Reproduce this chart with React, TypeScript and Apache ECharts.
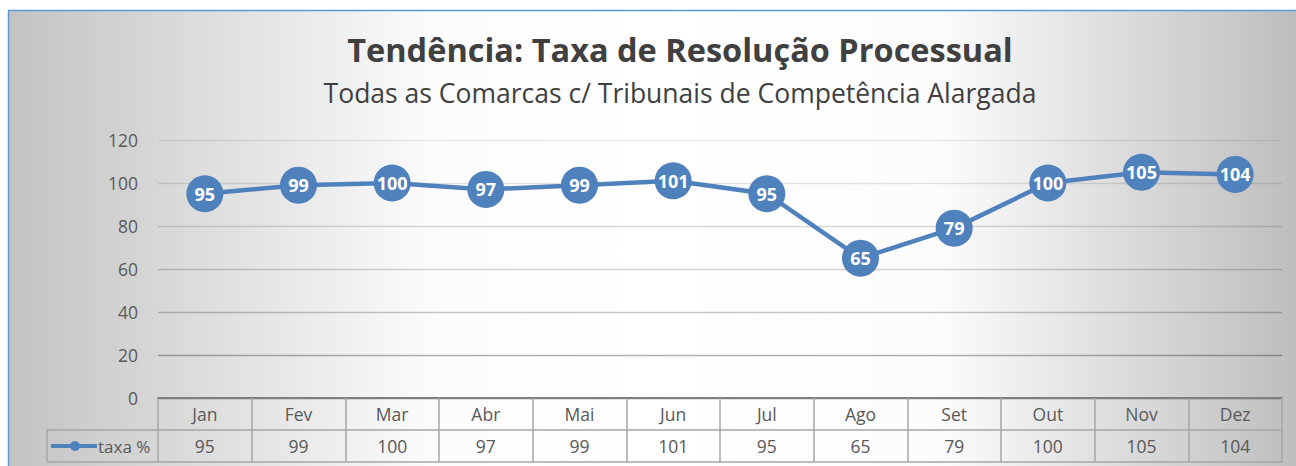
import React, { useEffect, useRef } from "react";
import * as echarts from "echarts";

const months = ["Jan", "Fev", "Mar", "Abr", "Mai", "Jun", "Jul", "Ago", "Set", "Out", "Nov", "Dez"];
const taxa = [95, 99, 100, 97, 99, 101, 95, 65, 79, 100, 105, 104];
const seriesName = "taxa %";
const titleText = "Tendência: Taxa de Resolução Processual";
const subtitleText = "Todas as Comarcas c/ Tribunais de Competência Alargada";

const FONT = "'Open Sans', 'Noto Sans', sans-serif";
const BLUE = "#4f81bd";
const TXT = "#595959";
const TABLE = "#a6a6a6";

export default function App() {
  const ref = useRef<HTMLDivElement>(null);
  useEffect(() => {
    if (!ref.current) return;
    const chart = echarts.init(ref.current, null, { renderer: "svg" });
    const option: any = {
      animation: false,
      backgroundColor: "#ffffff",
      textStyle: { fontFamily: FONT },
      grid: { left: 158, right: 14, top: 140, bottom: 68, containLabel: false },
      xAxis: [
        {
          type: "category",
          data: months,
          position: "bottom",
          axisLine: { show: true, lineStyle: { color: "#7f7f7f", width: 2 } },
          axisTick: { show: true, length: 64, interval: 0, lineStyle: { color: TABLE, width: 1.5 } },
          axisLabel: { margin: 7, fontSize: 17.5, color: TXT, fontFamily: FONT, interval: 0 },
          splitLine: { show: false },
        },
        {
          type: "category",
          data: taxa.map((v) => String(v)),
          position: "bottom",
          offset: 32,
          axisLine: { show: true, lineStyle: { color: TABLE, width: 1.5 } },
          axisTick: { show: false },
          axisLabel: { margin: 7, fontSize: 17.5, color: TXT, fontFamily: FONT, interval: 0 },
          splitLine: { show: false },
        },
        {
          type: "category",
          data: months,
          position: "bottom",
          offset: 64,
          axisLine: { show: true, lineStyle: { color: TABLE, width: 1.5 } },
          axisTick: { show: false },
          axisLabel: { show: false },
          splitLine: { show: false },
        },
      ],
      yAxis: {
        type: "value",
        min: 0,
        max: 120,
        interval: 20,
        axisLine: { show: false },
        axisTick: { show: false },
        axisLabel: { margin: 20, fontSize: 17.5, color: TXT, fontFamily: FONT },
        splitLine: {
          show: true,
          lineStyle: {
            width: 1.3,
            color: [
              "rgba(0,0,0,0.45)",
              "rgba(0,0,0,0.3)",
              "rgba(0,0,0,0.22)",
              "rgba(0,0,0,0.17)",
              "rgba(0,0,0,0.14)",
              "rgba(0,0,0,0.11)",
              "rgba(0,0,0,0.07)",
            ],
          },
        },
      },
      graphic: [
        {
          type: "rect",
          z: -10,
          silent: true,
          shape: { x: 8.5, y: 10.5, width: 1292, height: 470 },
          style: {
            fill: new echarts.graphic.LinearGradient(0, 0, 1, 0, [
              { offset: 0, color: "#c3c3c3" },
              { offset: 0.33, color: "#fcfcfc" },
              { offset: 0.5, color: "#ffffff" },
              { offset: 0.72, color: "#fcfcfc" },
              { offset: 1, color: "#bdbdbd" },
            ]),
            stroke: "#5b9bd5",
            lineWidth: 1.5,
          },
        },
        {
          type: "text",
          x: 680,
          y: 49,
          style: {
            text: titleText,
            fontFamily: FONT,
            fontWeight: "bold",
            fontSize: 32.5,
            fill: "#404040",
            align: "center",
            verticalAlign: "middle",
          },
        },
        {
          type: "text",
          x: 680,
          y: 93,
          style: {
            text: subtitleText,
            fontFamily: FONT,
            fontSize: 26.5,
            fill: "#404040",
            align: "center",
            verticalAlign: "middle",
          },
        },
        {
          type: "polyline",
          shape: { points: [[158, 430], [47, 430], [47, 462], [158, 462]] },
          style: { stroke: TABLE, lineWidth: 1.5, fill: "none" },
        },
        {
          type: "line",
          shape: { x1: 51, y1: 446, x2: 97, y2: 446 },
          style: { stroke: BLUE, lineWidth: 4 },
        },
        {
          type: "circle",
          shape: { cx: 75, cy: 446, r: 5 },
          style: { fill: BLUE },
        },
        {
          type: "text",
          x: 98,
          y: 446,
          style: {
            text: seriesName,
            fontFamily: FONT,
            fontSize: 17,
            fill: TXT,
            align: "left",
            verticalAlign: "middle",
          },
        },
      ],
      series: [
        {
          name: seriesName,
          type: "line",
          xAxisIndex: 0,
          data: taxa,
          symbol: "circle",
          symbolSize: 37,
          lineStyle: { color: BLUE, width: 4.5 },
          itemStyle: { color: BLUE },
          label: {
            show: true,
            position: "inside",
            color: "#ffffff",
            fontWeight: "bold",
            fontSize: 18,
            fontFamily: FONT,
          },
        },
      ],
    };
    chart.setOption(option);
    return () => chart.dispose();
  }, []);
  return (
    <div
      ref={ref}
      style={{ position: "absolute", left: 0, top: 0, width: 1296, height: 466 }}
    />
  );
}
